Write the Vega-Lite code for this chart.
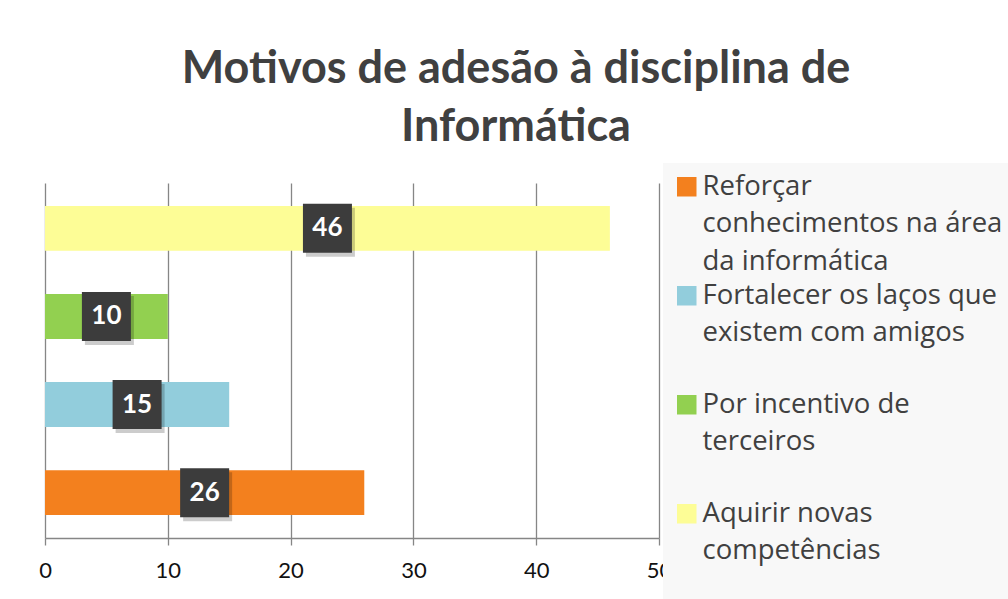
{
  "$schema": "https://vega.github.io/schema/vega-lite/v6.json",
  "width": 614,
  "height": 355,
  "autosize": {"type": "none"},
  "padding": {"left": 45, "top": 183, "right": 349, "bottom": 61},
  "background": "white",
  "title": {
    "text": ["Motivos de adesão à disciplina de", "Informática"],
    "font": "Lato",
    "fontWeight": "bold",
    "fontSize": 45,
    "lineHeight": 58,
    "color": "#404040",
    "anchor": "middle",
    "dx": 164,
    "offset": 13
  },
  "data": {
    "values": [
      {"categoria": "Reforçar conhecimentos na área da informática", "valor": 26},
      {"categoria": "Fortalecer os laços que existem com amigos", "valor": 15},
      {"categoria": "Por incentivo de terceiros", "valor": 10},
      {"categoria": "Aquirir novas competências", "valor": 46}
    ]
  },
  "encoding": {
    "y": {
      "field": "categoria",
      "type": "nominal",
      "sort": ["Aquirir novas competências", "Por incentivo de terceiros", "Fortalecer os laços que existem com amigos", "Reforçar conhecimentos na área da informática"],
      "axis": null,
      "scale": {"paddingInner": 0.49, "paddingOuter": 0.26}
    }
  },
  "layer": [
    {
      "mark": {"type": "bar"},
      "encoding": {
        "x": {
          "field": "valor",
          "type": "quantitative",
          "scale": {"domain": [0, 50], "nice": false},
          "axis": {
            "values": [0, 10, 20, 30, 40, 50],
            "title": null,
            "grid": true,
            "gridColor": "#868686",
            "gridWidth": 1.3,
            "domainColor": "#868686",
            "domainWidth": 1.3,
            "tickColor": "#868686",
            "tickWidth": 1.3,
            "tickSize": 7,
            "labelFont": "Lato",
            "labelFontSize": 22,
            "labelColor": "#111111",
            "labelPadding": 15,
            "labelFlush": false,
            "labelOverlap": false
          }
        },
        "color": {
          "field": "categoria",
          "type": "nominal",
          "scale": {
            "domain": ["Reforçar conhecimentos na área da informática", "Fortalecer os laços que existem com amigos", "Por incentivo de terceiros", "Aquirir novas competências"],
            "range": ["#F3801E", "#92CDDC", "#92D050", "#FDFD96"]
          },
          "legend": {
            "title": null,
            "orient": "none",
            "legendX": 618,
            "legendY": -20,
            "direction": "vertical",
            "columns": 1,
            "gridAlign": "all",
            "fillColor": "#F8F8F8",
            "strokeColor": null,
            "padding": 10,
            "symbolType": "square",
            "symbolSize": 380,
            "symbolStrokeWidth": 0,
            "symbolOpacity": 1,
            "labelFont": "Open Sans",
            "labelFontSize": 27.5,
            "labelColor": "#404040",
            "labelLimit": 600,
            "labelOffset": 2,
            "rowPadding": 5,
            "labelExpr": "datum.label == 'Reforçar conhecimentos na área da informática' ? ['Reforçar', 'conhecimentos na área', 'da informática'] : datum.label == 'Fortalecer os laços que existem com amigos' ? ['Fortalecer os laços que', 'existem com amigos'] : datum.label == 'Por incentivo de terceiros' ? ['Por incentivo de', 'terceiros'] : ['Aquirir novas', 'competências', ' ']",
            "encode": {"labels": {"update": {"lineHeight": {"value": 37.5}}}}
          }
        }
      }
    },
    {
      "encoding": {
        "x": {"field": "valor", "type": "quantitative", "scale": {"domain": [0, 100], "nice": false}, "axis": null}
      },
      "layer": [
        {"mark": {"type": "point", "shape": "square", "filled": true, "size": 2401, "color": "#000000", "opacity": 0.2, "xOffset": 3, "yOffset": 4}},
        {"mark": {"type": "point", "shape": "square", "filled": true, "size": 2401, "color": "#3C3C3C", "opacity": 1}},
        {
          "mark": {"type": "text", "color": "white", "font": "Lato", "fontWeight": "bold", "fontSize": 26, "baseline": "middle", "align": "center"},
          "encoding": {"text": {"field": "valor", "type": "quantitative"}}
        }
      ]
    }
  ],
  "resolve": {"scale": {"x": "independent"}},
  "config": {"view": {"stroke": null}}
}
